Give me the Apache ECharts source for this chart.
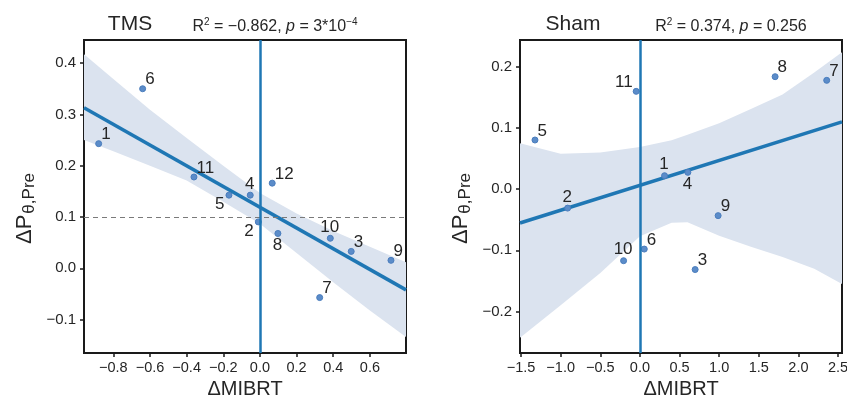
<!DOCTYPE html>
<html lang="en">
<head>
    <meta charset="UTF-8">
    <title>TMS vs Sham</title>
    <style>
        html, body { margin: 0; padding: 0; background: #fff; }
        #main { width: 847px; height: 396px; }
    </style>
    <script src="https://cdn.jsdelivr.net/npm/echarts@6/dist/echarts.min.js"></script>
</head>
<body>

<div id="main"></div>

<script>

    // TMS panel: subject ids and their values
    var tmsIds = [1, 2, 3, 4, 5, 6, 7, 8, 9, 10, 11, 12];
    var tmsX = [-0.880, -0.009, 0.498, -0.053, -0.169, -0.640, 0.326, 0.098, 0.715, 0.384, -0.360, 0.067];
    var tmsY = [0.243, 0.0905, 0.033, 0.1426, 0.1426, 0.350, -0.057, 0.068, 0.0156, 0.0586, 0.178, 0.166];

    // TMS fit line (ends) and confidence band
    var tmsFitX = [-0.96, 0.797];
    var tmsFitY = [0.313, -0.042];
    var tmsBandX = [-0.96, -0.8, -0.6, -0.4, -0.2, 0, 0.2, 0.4, 0.6, 0.797];
    var tmsBandHi = [0.417, 0.369, 0.309, 0.254, 0.200, 0.147, 0.107, 0.073, 0.042, 0.012];
    var tmsBandLo = [0.250, 0.228, 0.200, 0.171, 0.130, 0.087, 0.030, -0.027, -0.082, -0.134];

    // Sham panel
    var shamIds = [1, 2, 3, 4, 5, 6, 7, 8, 9, 10, 11];
    var shamX = [0.311, -0.912, 0.697, 0.605, -1.324, 0.055, 2.357, 1.706, 0.987, -0.206, -0.047];
    var shamY = [0.022, -0.031, -0.1315, 0.0275, 0.0804, -0.098, 0.178, 0.184, -0.0433, -0.117, 0.160];

    var shamFitX = [-1.513, 2.55];
    var shamFitY = [-0.0553, 0.110];
    var shamBandX = [-1.513, -1.0, -0.5, 0, 0.4, 0.6, 1.0, 1.4, 1.8, 2.2, 2.55];
    var shamBandHi = [0.075, 0.058, 0.060, 0.069, 0.080, 0.089, 0.108, 0.131, 0.155, 0.191, 0.224];
    var shamBandLo = [-0.243, -0.190, -0.137, -0.077, -0.055, -0.054, -0.076, -0.094, -0.111, -0.130, -0.155];

    // tick labels
    var tmsXTicks = [-0.8, -0.6, -0.4, -0.2, 0.0, 0.2, 0.4, 0.6];
    var tmsYTicks = [-0.1, 0.0, 0.1, 0.2, 0.3, 0.4];
    var shamXTicks = [-1.5, -1.0, -0.5, 0.0, 0.5, 1.0, 1.5, 2.0, 2.5];
    var shamYTicks = [-0.2, -0.1, 0.0, 0.1, 0.2];

    // where each number label sits relative to its dot
    var tmsLabelPos = {1:'ur', 2:'ll', 3:'ur', 4:'above', 5:'ll', 6:'ur', 7:'ur', 8:'below', 9:'ur', 10:'above', 11:'ur', 12:'ur'};
    var shamLabelPos = {1:'above', 2:'above', 3:'ur', 4:'below', 5:'ur', 6:'ur', 7:'ur', 8:'ur', 9:'ur', 10:'above', 11:'ul'};

    var FONT = '"Liberation Sans", Arial, Helvetica, sans-serif';
    var TXT = '#262626';
    var LINE_BLUE = '#1f77b4';
    var DOT_BLUE = '#5b8cc9';
    var BAND = '#dbe3ef';

    var placements = {
        ur:    { position: [6, 3],  align: 'left',   verticalAlign: 'bottom' },
        ul:    { position: [0, 3],  align: 'right',  verticalAlign: 'bottom' },
        above: { position: [3, 1],  align: 'center', verticalAlign: 'bottom' },
        below: { position: [3, 7],  align: 'center', verticalAlign: 'top' },
        ll:    { position: [-1, 4], align: 'right',  verticalAlign: 'top' }
    };

    function fmt(v) {
        return v.toFixed(1).replace('-', '\u2212');
    }

    function pointData(ids, xs, ys, pos) {
        var out = [];
        for (var i = 0; i < ids.length; i++) {
            var p = placements[pos[ids[i]]];
            out.push({
                value: [xs[i], ys[i]],
                name: String(ids[i]),
                label: { position: p.position, align: p.align, verticalAlign: p.verticalAlign }
            });
        }
        return out;
    }

    function pairs(xs, ys) {
        var out = [];
        for (var i = 0; i < xs.length; i++) out.push([xs[i], ys[i]]);
        return out;
    }

    // band polygon drawn through the axis scales
    function bandSeries(idx, bx, hi, lo) {
        var data = [];
        for (var i = 0; i < bx.length; i++) data.push([bx[i], hi[i], lo[i]]);
        return {
            type: 'custom',
            xAxisIndex: idx, yAxisIndex: idx,
            z: 1,
            silent: true,
            data: data,
            encode: { x: 0, y: [1, 2] },
            renderItem: function (params, api) {
                if (params.dataIndex !== 0) return;
                var pts = [];
                for (var i = 0; i < data.length; i++) pts.push(api.coord([data[i][0], data[i][1]]));
                for (var j = data.length - 1; j >= 0; j--) pts.push(api.coord([data[j][0], data[j][2]]));
                return {
                    type: 'polygon',
                    shape: { points: pts },
                    style: { fill: BAND, stroke: null }
                };
            }
        };
    }

    function xAxis(idx, min, max, ticks) {
        return {
            type: 'value', gridIndex: idx, min: min, max: max,
            name: '\u0394MIBRT', nameLocation: 'middle', nameGap: 24,
            nameTextStyle: { fontSize: 20, color: TXT, fontFamily: FONT },
            axisLine: { show: true, onZero: false, lineStyle: { color: '#1a1a1a', width: 2 } },
            axisTick: { show: true, length: 4, customValues: ticks, lineStyle: { color: '#1a1a1a', width: 1.5 } },
            axisLabel: { customValues: ticks, formatter: fmt, fontSize: 14.5, color: TXT, fontFamily: FONT, margin: 7, showMinLabel: true, showMaxLabel: true },
            splitLine: { show: false }
        };
    }

    function yAxis(idx, min, max, ticks, gap) {
        return {
            type: 'value', gridIndex: idx, min: min, max: max,
            name: '{a|\u0394P}{b|\u03b8,Pre}', nameLocation: 'middle', nameGap: gap, nameRotate: 90,
            nameTextStyle: {
                fontFamily: FONT, color: TXT,
                rich: {
                    a: { fontSize: 22, lineHeight: 26, color: TXT, fontFamily: FONT },
                    b: { fontSize: 17, lineHeight: 8, verticalAlign: 'bottom', color: TXT, fontFamily: FONT, padding: [0, 24, 0, 1] }
                }
            },
            axisLine: { show: true, onZero: false, lineStyle: { color: '#1a1a1a', width: 2 } },
            axisTick: { show: true, length: 4, customValues: ticks, lineStyle: { color: '#1a1a1a', width: 1.5 } },
            axisLabel: { customValues: ticks, formatter: fmt, fontSize: 15, color: TXT, fontFamily: FONT, margin: 8 },
            splitLine: { show: false }
        };
    }

    function fitSeries(idx, fx, fy, extraMarks) {
        return {
            type: 'line', xAxisIndex: idx, yAxisIndex: idx,
            data: pairs(fx, fy), symbol: 'none', z: 3, silent: true,
            lineStyle: { color: LINE_BLUE, width: 3.5 },
            markLine: {
                silent: true, symbol: 'none', label: { show: false },
                data: extraMarks
            }
        };
    }

    function scatterSeries(idx, data) {
        return {
            type: 'scatter', xAxisIndex: idx, yAxisIndex: idx,
            data: data, symbolSize: 6, z: 4, silent: true,
            itemStyle: { color: DOT_BLUE, borderColor: '#4a7dbd', borderWidth: 1, opacity: 1 },
            label: { show: true, formatter: '{b}', fontSize: 17, color: TXT, fontFamily: FONT }
        };
    }

    function statRich() {
        return {
            n: { fontSize: 16, lineHeight: 20, color: TXT, fontFamily: FONT, fontWeight: 'normal' },
            i: { fontSize: 16, lineHeight: 20, color: TXT, fontFamily: FONT, fontWeight: 'normal', fontStyle: 'italic' },
            s: { fontSize: 10, lineHeight: 12, verticalAlign: 'top', color: TXT, fontFamily: FONT, fontWeight: 'normal' }
        };
    }

    var chartDom = document.getElementById('main');
    var myChart = echarts.init(chartDom, null, { renderer: 'canvas' });
    var option;

    option = {
        backgroundColor: '#fff',
        animation: false,
        title: [
            { text: 'TMS', left: 130, top: 14, textAlign: 'center', padding: 0,
              textStyle: { fontSize: 21, fontWeight: 'normal', color: TXT, fontFamily: FONT } },
            { text: '{n|R}{s|2}{n| = \u22120.862, }{i|p}{n| = 3*10}{s|\u22124}', left: 275, top: 17, textAlign: 'center', padding: 0,
              textStyle: { fontWeight: 'normal', rich: statRich() } },
            { text: 'Sham', left: 573, top: 14, textAlign: 'center', padding: 0,
              textStyle: { fontSize: 21, fontWeight: 'normal', color: TXT, fontFamily: FONT } },
            { text: '{n|R}{s|2}{n| = 0.374, }{i|p}{n| = 0.256}', left: 731, top: 17, textAlign: 'center', padding: 0,
              textStyle: { fontWeight: 'normal', rich: statRich() } }
        ],
        grid: [
            { left: 84, top: 40, width: 322, height: 313, show: true, borderColor: '#1a1a1a', borderWidth: 2, backgroundColor: 'transparent', outerBoundsMode: 'none', containLabel: false },
            { left: 520, top: 40, width: 322, height: 313, show: true, borderColor: '#1a1a1a', borderWidth: 2, backgroundColor: 'transparent', outerBoundsMode: 'none', containLabel: false }
        ],
        xAxis: [
            xAxis(0, -0.96, 0.797, tmsXTicks),
            xAxis(1, -1.513, 2.55, shamXTicks)
        ],
        yAxis: [
            yAxis(0, -0.165, 0.445, tmsYTicks, 46),
            yAxis(1, -0.268, 0.244, shamYTicks, 46)
        ],
        series: [
            bandSeries(0, tmsBandX, tmsBandHi, tmsBandLo),
            bandSeries(1, shamBandX, shamBandHi, shamBandLo),
            fitSeries(0, tmsFitX, tmsFitY, [
                { yAxis: 0.1, lineStyle: { color: '#7a7a7a', width: 1.2, type: [5, 4] } },
                { xAxis: 0, lineStyle: { color: LINE_BLUE, width: 2.5, type: 'solid' } }
            ]),
            fitSeries(1, shamFitX, shamFitY, [
                { xAxis: 0, lineStyle: { color: LINE_BLUE, width: 2.5, type: 'solid' } }
            ]),
            scatterSeries(0, pointData(tmsIds, tmsX, tmsY, tmsLabelPos)),
            scatterSeries(1, pointData(shamIds, shamX, shamY, shamLabelPos))
        ]
    };

    option && myChart.setOption(option);

</script>

</body>
</html>
